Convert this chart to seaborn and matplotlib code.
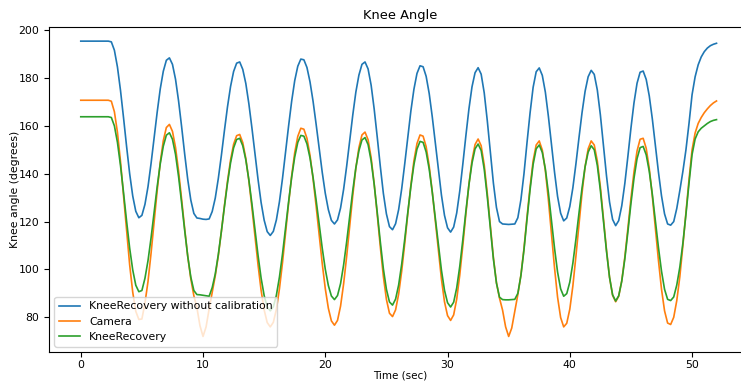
import numpy as np
import matplotlib
matplotlib.use("Agg")
import matplotlib.pyplot as plt
import seaborn as sns

# time axis, one sample every quarter second (0 .. 52 s)
time = np.arange(0, 52.01, 0.25)

# values (degrees), 8 samples = 2 seconds per row
kneerecovery_raw = [
    195.4, 195.4, 195.4, 195.4, 195.4, 195.4, 195.4, 195.4,
    195.4, 195.4, 195.1, 191.6, 184.6, 174.8, 163.3, 151.3,
    140.0, 130.7, 124.3, 121.6, 122.6, 127.2, 134.6, 144.3,
    155.0, 165.7, 175.4, 182.8, 187.4, 188.4, 185.7, 179.5,
    170.4, 159.6, 148.2, 137.6, 129.0, 123.4, 121.5, 121.3,
    121.0, 120.9, 121.1, 124.2, 129.8, 138.0, 147.6, 158.0,
    167.9, 176.4, 182.7, 186.2, 186.7, 183.6, 177.7, 169.2,
    159.1, 148.3, 137.6, 128.0, 120.6, 115.8, 114.2, 115.9,
    120.7, 128.3, 138.0, 149.0, 160.0, 170.3, 178.9, 184.9,
    187.9, 187.6, 184.4, 178.4, 170.3, 160.7, 150.6, 140.6,
    131.8, 125.0, 120.5, 119.0, 120.7, 125.7, 133.5, 143.2,
    154.0, 164.6, 174.1, 181.2, 185.7, 186.7, 183.8, 177.0,
    167.0, 155.3, 143.1, 131.8, 123.2, 117.9, 116.6, 119.1,
    125.0, 133.7, 144.2, 155.4, 166.2, 175.3, 181.9, 185.1,
    184.7, 180.7, 173.5, 163.8, 152.8, 141.4, 131.1, 122.6,
    117.4, 115.6, 117.7, 123.6, 132.8, 144.0, 155.9, 167.1,
    176.3, 182.2, 184.3, 181.6, 173.8, 162.2, 149.0, 136.1,
    125.9, 120.0, 119.0, 118.9, 118.8, 118.9, 119.0, 121.6,
    129.1, 139.9, 153.0, 165.4, 176.1, 182.6, 184.2, 181.1,
    174.1, 163.9, 152.3, 140.7, 130.5, 123.5, 120.3, 121.5,
    126.3, 134.1, 144.1, 155.0, 165.5, 174.4, 180.5, 183.2,
    181.5, 175.0, 164.6, 152.0, 139.2, 128.2, 120.9, 118.3,
    120.4, 126.6, 135.9, 147.2, 159.0, 169.6, 177.8, 182.4,
    182.9, 179.4, 172.5, 162.9, 151.9, 140.7, 130.8, 123.2,
    119.0, 118.5, 120.0, 125.5, 133.0, 141.0, 150.0, 161.0,
    173.0, 180.5, 185.5, 188.8, 191.0, 192.5, 193.5, 194.1,
    194.5,
]
camera = [
    170.7, 170.7, 170.7, 170.7, 170.7, 170.7, 170.7, 170.7,
    170.7, 170.7, 170.3, 165.9, 157.3, 145.1, 130.8, 116.0,
    101.9, 90.5, 82.5, 79.1, 79.3, 85.9, 95.0, 106.8,
    119.9, 132.9, 144.7, 153.8, 159.3, 160.6, 157.7, 151.0,
    141.1, 129.3, 117.0, 105.4, 96.1, 89.0, 84.0, 76.5,
    72.0, 76.0, 83.5, 90.5, 97.3, 105.7, 115.8, 126.6,
    136.8, 145.7, 152.3, 155.9, 156.4, 153.0, 146.4, 137.0,
    125.8, 113.8, 101.9, 91.3, 83.1, 77.8, 76.0, 77.9,
    83.3, 91.9, 102.8, 115.2, 127.6, 139.1, 148.8, 155.6,
    159.0, 158.6, 154.8, 147.7, 137.9, 126.5, 114.4, 102.5,
    92.0, 83.8, 78.5, 76.7, 78.7, 84.7, 94.0, 105.5,
    118.4, 131.0, 142.3, 150.9, 156.2, 157.4, 154.2, 146.7,
    135.8, 122.9, 109.5, 97.1, 87.5, 81.7, 80.3, 83.1,
    89.7, 99.3, 110.9, 123.3, 135.2, 145.4, 152.6, 156.2,
    155.7, 151.3, 143.2, 132.5, 120.2, 107.5, 96.0, 86.5,
    80.7, 78.7, 81.0, 87.6, 97.7, 110.0, 123.2, 135.6,
    145.6, 152.2, 154.5, 151.7, 143.7, 131.8, 118.2, 105.0,
    94.5, 88.0, 83.0, 76.0, 72.0, 75.5, 82.5, 89.5,
    97.6, 108.6, 121.9, 134.5, 145.4, 152.0, 153.7, 149.9,
    141.3, 129.0, 114.9, 100.7, 88.4, 79.9, 76.0, 77.5,
    83.4, 93.1, 105.5, 118.9, 131.9, 142.9, 150.4, 153.7,
    152.0, 145.3, 134.5, 121.5, 108.2, 96.7, 89.2, 86.5,
    88.8, 95.3, 105.1, 117.1, 129.6, 140.8, 149.5, 154.4,
    154.8, 150.6, 142.2, 130.6, 117.3, 103.8, 91.8, 82.7,
    77.6, 77.0, 80.0, 87.0, 97.0, 110.0, 124.0, 137.5,
    150.0, 157.0, 161.0, 163.5, 165.5, 167.1, 168.5, 169.6,
    170.4,
]
kneerecovery = [
    163.8, 163.8, 163.8, 163.8, 163.8, 163.8, 163.8, 163.8,
    163.8, 163.8, 163.5, 160.0, 153.1, 143.4, 132.0, 120.1,
    108.9, 99.8, 93.4, 90.7, 91.2, 96.3, 103.7, 113.2,
    123.9, 134.6, 144.1, 151.5, 156.1, 157.1, 154.4, 148.1,
    138.8, 127.8, 116.3, 105.5, 96.8, 91.2, 89.5, 89.4,
    89.2, 89.0, 88.8, 92.4, 98.1, 106.2, 115.9, 126.2,
    136.0, 144.5, 150.8, 154.3, 154.8, 151.7, 145.8, 137.4,
    127.4, 116.6, 105.9, 96.4, 89.1, 84.3, 82.7, 84.4,
    89.2, 96.8, 106.4, 117.3, 128.3, 138.5, 147.0, 153.1,
    156.0, 155.7, 152.5, 146.6, 138.5, 129.0, 118.8, 108.9,
    100.1, 93.3, 88.9, 87.4, 89.1, 94.1, 101.9, 111.6,
    122.4, 133.0, 142.5, 149.6, 154.1, 155.1, 152.2, 145.4,
    135.5, 123.8, 111.6, 100.3, 91.7, 86.4, 85.1, 87.6,
    93.5, 102.2, 112.7, 123.9, 134.6, 143.8, 150.3, 153.5,
    153.1, 149.1, 141.9, 132.3, 121.3, 110.0, 99.7, 91.3,
    86.1, 84.3, 86.3, 92.3, 101.3, 112.4, 124.3, 135.4,
    144.4, 150.4, 152.4, 149.7, 141.9, 130.4, 117.2, 104.4,
    94.3, 88.4, 87.4, 87.3, 87.3, 87.4, 87.5, 90.0,
    97.4, 108.1, 121.0, 133.3, 143.9, 150.4, 152.0, 148.9,
    142.0, 132.0, 120.4, 108.9, 98.9, 91.9, 88.8, 89.9,
    94.7, 102.6, 112.6, 123.5, 134.0, 142.9, 149.0, 151.7,
    150.0, 143.5, 133.1, 120.5, 107.7, 96.7, 89.4, 86.8,
    89.0, 95.1, 104.4, 115.7, 127.5, 138.1, 146.3, 150.9,
    151.4, 147.9, 141.0, 131.4, 120.4, 109.2, 99.3, 91.7,
    87.5, 87.0, 88.5, 93.5, 101.0, 111.0, 123.0, 136.0,
    148.0, 154.5, 157.5, 159.0, 160.0, 161.0, 161.8, 162.3,
    162.6,
]

labels = ["KneeRecovery without calibration", "Camera", "KneeRecovery"]
colors = ["#1f77b4", "#ff7f0e", "#2ca02c"]

plt.rcParams["font.family"] = ["DejaVu Sans"]
plt.rcParams["font.size"] = 7.8

fig = plt.figure(figsize=(7.41, 3.81), dpi=100)
ax = fig.add_axes([0.0661, 0.0761, 0.9487, 0.853])

for vals, lab, col in zip([kneerecovery_raw, camera, kneerecovery], labels, colors):
    sns.lineplot(x=time, y=vals, label=lab, color=col, linewidth=1.2, ax=ax)

ax.set_xlim(-2.6, 54.9)
ax.set_ylim(65.5, 201.3)
ax.set_xticks([0, 10, 20, 30, 40, 50])
ax.set_yticks([80, 100, 120, 140, 160, 180, 200])
ax.tick_params(axis="x", pad=2.5)
ax.set_title("Knee Angle", fontsize=9.4)
ax.set_xlabel("Time (sec)", fontsize=7.5, labelpad=0)
ax.set_ylabel("Knee angle (degrees)", labelpad=-1.5)
ax.legend(loc="lower left", fontsize=7.8)

fig.savefig("out.png", dpi=100)
